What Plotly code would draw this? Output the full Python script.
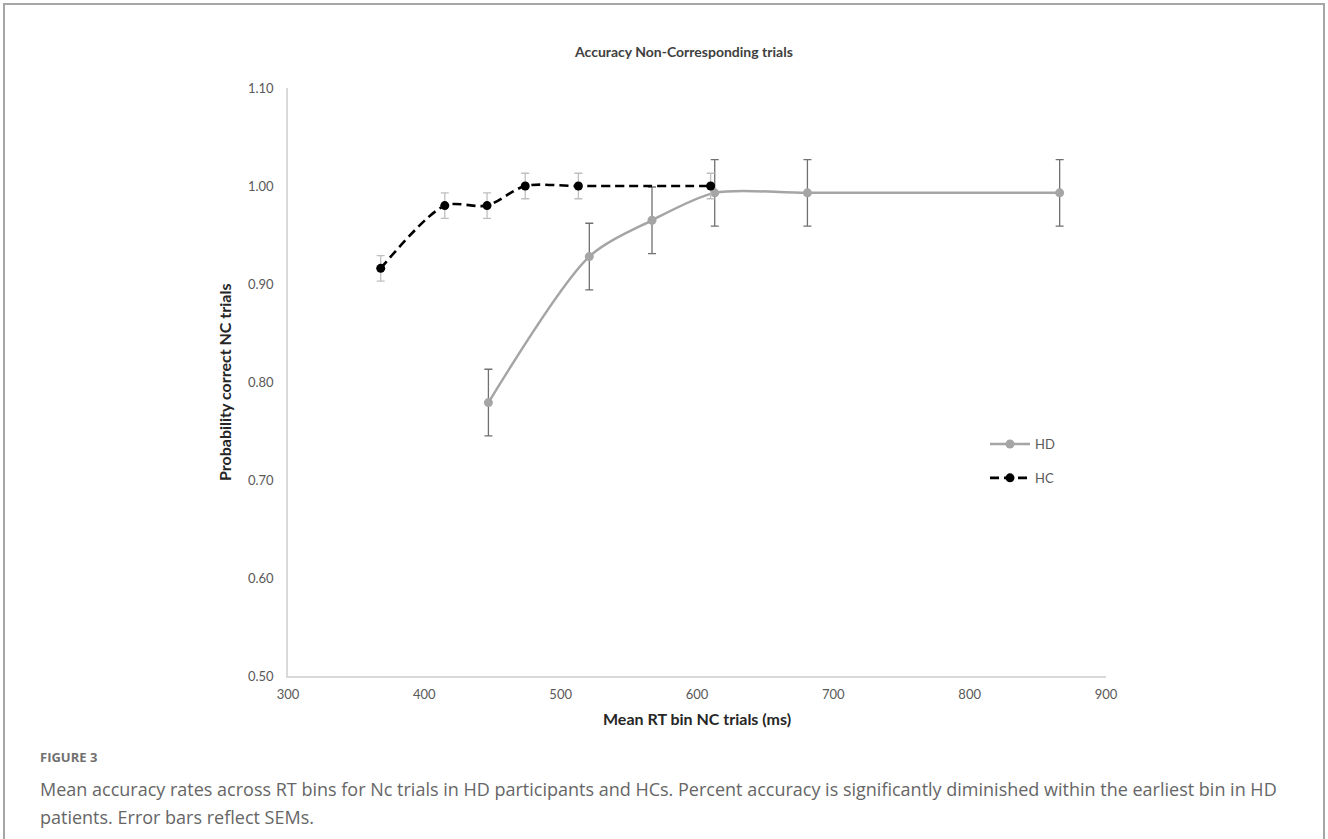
import plotly.graph_objects as go

# ---- data ----
hd_rt = [447, 521, 567, 613, 681, 866]
hd_acc = [0.779, 0.928, 0.965, 0.993, 0.993, 0.993]
hd_sem = [0.034, 0.034, 0.034, 0.034, 0.034, 0.034]

hc_rt = [368, 415, 446, 474, 513, 610]
hc_acc = [0.916, 0.980, 0.980, 1.000, 1.000, 1.000]
hc_sem = [0.013, 0.013, 0.013, 0.013, 0.013, 0.013]

x_ticks = [300, 400, 500, 600, 700, 800, 900]
y_ticks = [0.50, 0.60, 0.70, 0.80, 0.90, 1.00, 1.10]

title_text = "Accuracy Non-Corresponding trials"
x_title = "Mean RT bin NC trials (ms)"
y_title = "Probability correct NC trials"
fig_label = "FIGURE 3"
caption_1 = ("Mean accuracy rates across RT bins for Nc trials in HD participants and HCs. "
             "Percent accuracy is significantly diminished within the earliest bin in HD")
caption_2 = "patients. Error bars reflect SEMs."

W, H = 1328, 839
L, R, T, B = 288, 1106, 88, 676


def px(x):
    return (x - L) / (R - L)


def py(y):
    return (B - y) / (B - T)


FONT = "Lato"

fig = go.Figure()
fig.add_trace(go.Scatter(
    x=hd_rt, y=hd_acc, name="HD", mode="lines+markers",
    line=dict(color="#a5a5a5", width=2.5, shape="spline", smoothing=0.8),
    marker=dict(color="#a5a5a5", size=9),
    error_y=dict(type="data", array=hd_sem, color="#707070", thickness=1.3, width=4),
    legendgroup="hd",
))
fig.add_trace(go.Scatter(
    x=hc_rt, y=hc_acc, name="HC", mode="lines+markers",
    line=dict(color="#000000", width=2.6, dash="9px,5px", shape="spline", smoothing=0.8),
    marker=dict(color="#000000", size=9),
    error_y=dict(type="data", array=hc_sem, color="#bfbfbf", thickness=1.3, width=4),
    legendgroup="hc",
))

fig.update_layout(
    width=W, height=H, autosize=False,
    margin=dict(l=L, r=W - R, t=T, b=H - B),
    paper_bgcolor="white", plot_bgcolor="white",
    font=dict(family=FONT, size=13, color="#595959"),
    showlegend=True,
    legend=dict(x=px(985), y=py(429), xanchor="left", yanchor="top",
                font=dict(family=FONT, size=13, color="#595959"),
                itemwidth=40,
                tracegroupgap=14, bgcolor="rgba(0,0,0,0)"),
    xaxis=dict(range=[300, 900], tickvals=x_ticks, ticktext=[str(v) for v in x_ticks],
               showgrid=False, zeroline=False, showline=True, linecolor="#d9d9d9", linewidth=1.5,
               ticks="", ticklabelstandoff=6, tickfont=dict(family=FONT, size=13, color="#595959")),
    yaxis=dict(range=[0.5, 1.1], tickvals=y_ticks, ticktext=[f"{v:.2f}" for v in y_ticks],
               showgrid=False, zeroline=False, showline=True, linecolor="#d9d9d9", linewidth=1.5,
               ticks="", ticklabelstandoff=10, tickfont=dict(family=FONT, size=13, color="#595959")),
)

ann = [
    dict(text=f"<b>{title_text}</b>", x=px(683), y=py(52), font=dict(family=FONT, size=14, color="#404040")),
    dict(text=f"<b>{x_title}</b>", x=px(697), y=py(718), font=dict(family=FONT, size=16, color="#262626")),
    dict(text=f"<b>{y_title}</b>", x=px(224), y=py(383), textangle=-90,
         font=dict(family=FONT, size=16, color="#262626")),
    dict(text=f"<b>{fig_label}</b>", x=px(38), y=py(757), xanchor="left",
         font=dict(family="Open Sans", size=13, color="#707070")),
    dict(text=caption_1, x=px(38), y=py(789), xanchor="left",
         font=dict(family="Open Sans", size=18, color="#666666")),
    dict(text=caption_2, x=px(38), y=py(817), xanchor="left",
         font=dict(family="Open Sans", size=18, color="#666666")),
]
for a in ann:
    a.setdefault("xanchor", "center")
    fig.add_annotation(xref="paper", yref="paper", showarrow=False, yanchor="middle", **a)

# outer frame (open at bottom)
fig.add_shape(type="path", xref="paper", yref="paper",
              path=f"M {px(4)},{py(850)} L {px(4)},{py(4)} L {px(1324)},{py(4)} L {px(1324)},{py(850)}",
              line=dict(color="#a6a6a6", width=2))

fig.write_html("out.html")
